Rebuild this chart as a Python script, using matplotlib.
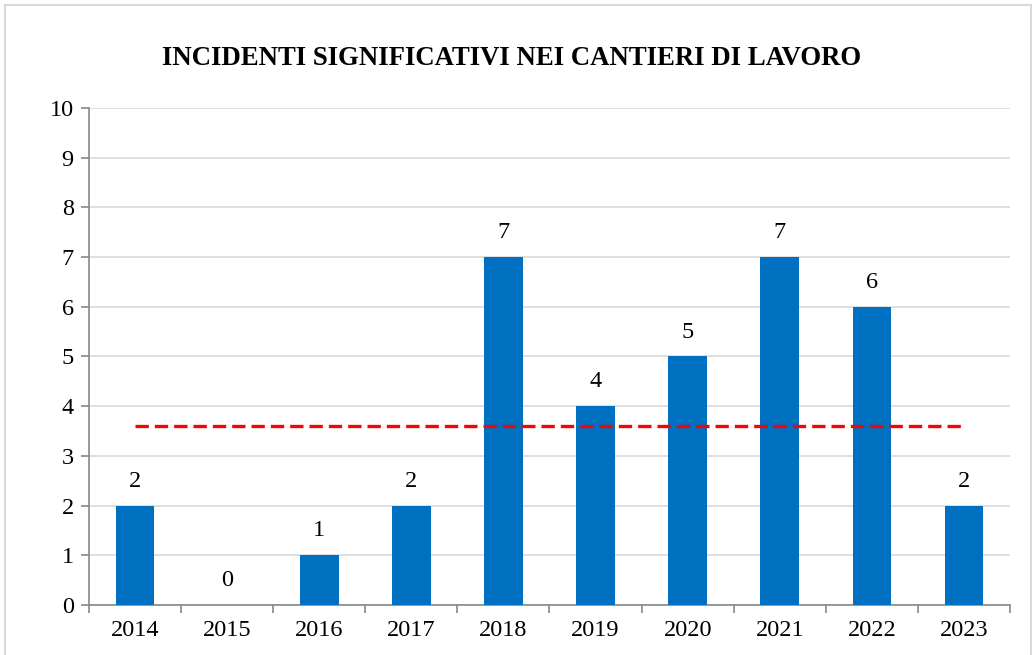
import matplotlib.pyplot as plt
from matplotlib.patches import Rectangle
import numpy as np

years = ['2014', '2015', '2016', '2017', '2018', '2019', '2020', '2021', '2022', '2023']
incidents = [2, 0, 1, 2, 7, 4, 5, 7, 6, 2]
average = 3.6

plt.rcParams['font.family'] = ['Liberation Serif', 'DejaVu Serif']

fig = plt.figure(figsize=(10.36, 6.55), dpi=100)
ax = fig.add_axes([0.0859, 0.0763, 0.889, 0.759])

x = np.arange(len(years))
bars = ax.bar(x, incidents, width=0.42, color='#0070C0', zorder=3)
for xi, v in zip(x, incidents):
    ax.annotate(str(v), (xi, v), xytext=(0, 10), textcoords='offset points',
                ha='center', va='bottom', fontsize=17.5)

ax.plot([x[0], x[-1]], [average, average], color='#FF0000', lw=2.4,
        ls=(0, (4, 1.8)), zorder=4)

ax.set_xlim(-0.5, len(years) - 0.5)
ax.set_ylim(0, 10)
ax.set_yticks(range(0, 11))
ax.set_xticks(x)
ax.set_xticklabels(years)
ax.set_xticks(np.arange(-0.5, len(years)), minor=True)
ax.tick_params(axis='x', which='major', length=0, pad=11, labelsize=17.5)
ax.tick_params(axis='x', which='minor', length=6, color='#888888', width=1.2)
ax.tick_params(axis='y', length=6, color='#888888', width=1.2, pad=5, labelsize=17.5)

ax.grid(axis='y', color='#d9d9d9', lw=1.2, zorder=0)
for s in ['top', 'right']:
    ax.spines[s].set_visible(False)
for s in ['left', 'bottom']:
    ax.spines[s].set_color('#888888')
    ax.spines[s].set_linewidth(1.2)

fig.text(0.494, 0.91, 'INCIDENTI SIGNIFICATIVI NEI CANTIERI DI LAVORO',
         ha='center', va='center', fontsize=19.3, fontweight='bold')

fig.patches.append(Rectangle((0.005, -0.05), 0.99, 1.042, transform=fig.transFigure,
                             fill=False, edgecolor='#d9d9d9', lw=1.5))

fig.savefig('out.png', dpi=100)
